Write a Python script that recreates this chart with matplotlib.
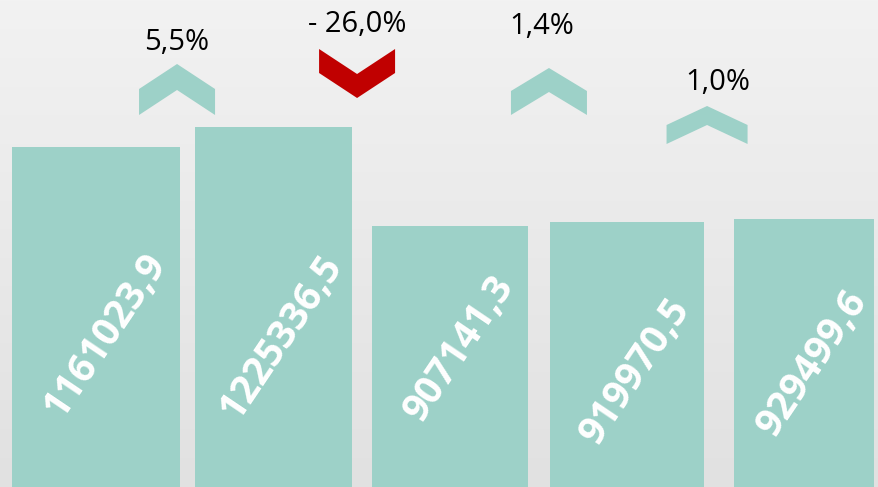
import numpy as np
import matplotlib.pyplot as plt
from matplotlib.patches import Polygon
from matplotlib.transforms import blended_transform_factory

plt.rcParams['font.family'] = ['Open Sans', 'DejaVu Sans']

# data
values = [1161023.9, 1225336.5, 907141.3, 919970.5, 929499.6]
value_labels = ['1161023,9', '1225336,5', '907141,3', '919970,5', '929499,6']
pct_labels = ['5,5%', '- 26,0%', '1,4%', '1,0%']
pct_up = [True, False, True, True]

# layout / style
teal = '#9dd1c8'
red = '#c00000'
bar_widths = [0.95, 0.89, 0.88, 0.87, 0.79]
label_y = [0.312, 0.308, 0.285, 0.238, 0.255]      # axes fraction
arrow_dx = [-0.044, -0.026, 0.059, -0.047]
arrow_top = [64, 49, 68, 106]                       # px from top
arrow_h = [51, 49, 47, 38]
arrow_t = [26, 24, 24, 19]
arrow_w = [76, 76, 76, 81]
pct_y = [43, 24, 27, 83]
pct_dx = [0.0, 0.0, -0.04, 0.06]

W, H = 879, 487
px_per_unit = 176.85

fig = plt.figure(figsize=(W / 100, H / 100), dpi=100)
ax = fig.add_axes([0, 0, 1, 1])

# gradient background
grad = np.linspace(0, 1, 256).reshape(-1, 1)
bg = plt.matplotlib.colors.LinearSegmentedColormap.from_list('bg', ['#f2f2f2', '#e1e1e1'])
ax.imshow(grad, extent=[0, 1, 0, 1], transform=ax.transAxes, cmap=bg,
          aspect='auto', zorder=0, origin='upper')

x = np.arange(len(values))
ax.bar(x, values, width=bar_widths, color=teal, zorder=2)
ax.set_xlim(-96.4 / px_per_unit, (W - 96.4) / px_per_unit)
ax.set_ylim(72000, 1633000)
ax.axis('off')

trans = blended_transform_factory(ax.transData, ax.transAxes)
for i, lab in enumerate(value_labels):
    ax.text(x[i] + 0.05, label_y[i], lab, transform=trans, rotation=56,
            rotation_mode='anchor', ha='center', va='center', color='white',
            fontsize=28, fontweight='bold', zorder=3)

for i, lab in enumerate(pct_labels):
    cx = x[i] + 0.5 + arrow_dx[i]
    hw = arrow_w[i] / 2 / px_per_unit
    top = 1 - arrow_top[i] / H
    h = arrow_h[i] / H
    t = arrow_t[i] / H
    if pct_up[i]:
        pts = [(cx - hw, top - h), (cx - hw, top - h + t), (cx, top),
               (cx + hw, top - h + t), (cx + hw, top - h), (cx, top - t)]
        col = teal
    else:
        pts = [(cx - hw, top), (cx - hw, top - t), (cx, top - h),
               (cx + hw, top - t), (cx + hw, top), (cx, top - h + t)]
        col = red
    ax.add_patch(Polygon(pts, closed=True, facecolor=col, edgecolor='none',
                         transform=trans, zorder=3))
    ax.text(cx + pct_dx[i], 1 - pct_y[i] / H, lab, transform=trans,
            ha='center', va='center', fontsize=21, color='black', zorder=3)

fig.savefig('out.png', dpi=100)
